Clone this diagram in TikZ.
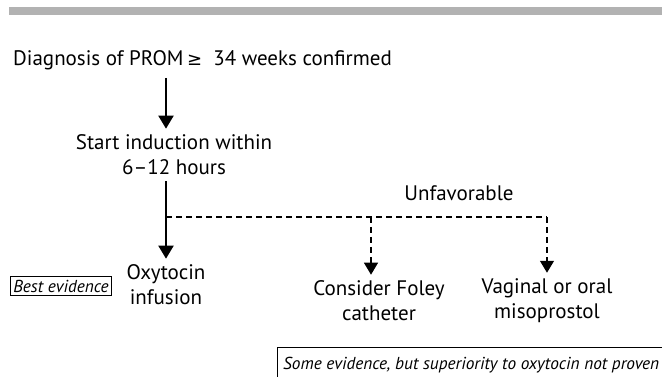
\documentclass[tikz,border=0pt]{standalone}
\usepackage{fontspec}
\setmainfont{PT Sans}
\newfontfamily\symfont{DejaVu Sans}
\usetikzlibrary{arrows.meta}

\begin{document}
\begin{tikzpicture}[x=1pt,y=-1pt,
    every node/.style={font=\fontsize{21}{25}\selectfont, align=center, inner sep=0pt},
    flow/.style={line width=2pt, -{Triangle[width=15pt,length=13pt]}},
    option/.style={line width=1.3pt, dash pattern=on 6pt off 4pt, -{Triangle[width=14pt,length=12pt]}},
    evidence/.style={font=\fontsize{17.3}{21}\selectfont\itshape}]
    \useasboundingbox (0,0) rectangle (662,377);
    % grey rule on top
    \fill[black!30] (9,7) rectangle (662,15);
    \node (diag) [anchor=west] at (13,60) {Diagnosis of PROM\,{\symfont\fontsize{18}{22}\selectfont ≥}\ \ 34 weeks confirmed};
    \node (start) at (174,155) {Start induction within\\6--12 hours};
    \node (oxy) at (166,285) {Oxytocin\\infusion};
    \node (unfav) at (459,193) {Unfavorable};
    \node (foley) at (379,301) {Consider Foley\\catheter};
    \node (miso) at (547,301) {Vaginal or oral\\misoprostol};
    \node (best) [evidence, draw, line width=0.8pt, inner sep=3pt] at (61,286) {Best evidence};
    \node (some) [evidence, anchor=west] at (283,365) {Some evidence, but superiority to oxytocin not proven};
    \draw[line width=1pt] (662,347) -| (277,377);
    % main line
    \draw[flow, shorten <=8pt, shorten >=6pt] (diag.south -| oxy.north) -- (start.north -| oxy.north);
    \coordinate (split) at (166,217);
    \draw[flow, shorten <=6pt, shorten >=6pt] (start.south -| oxy.north) -- (oxy.north);
    % unfavorable branch
    \draw[line width=1.3pt, dash pattern=on 6pt off 4pt] (split) -- (split -| miso.north);
    \draw[option, shorten >=6pt] ([xshift=-8pt]split -| foley.north) -- ([xshift=-8pt]foley.north);
    \draw[option, shorten >=6pt] (split -| miso.north) -- (miso.north);
\end{tikzpicture}
\end{document}
